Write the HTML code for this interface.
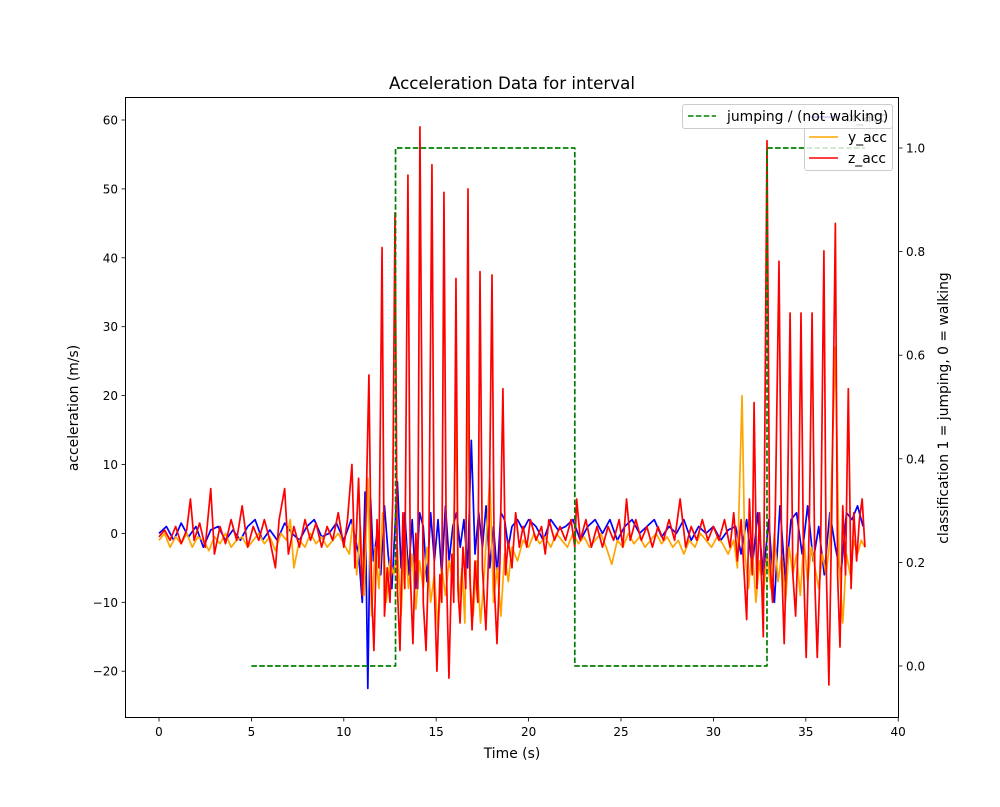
<!DOCTYPE html>
<html><head><meta charset="utf-8"><style>
body{margin:0;background:#fff;}
svg{display:block;font-family:"DejaVu Sans","Liberation Sans",sans-serif;}
</style></head><body>
<svg id="chart" width="1000" height="807" viewBox="0 0 1000 807">
<rect width="1000" height="807" fill="#fff"/>
<g id="plot"></g>
</svg>
<script>
const xTicks=[0,5,10,15,20,25,30,35,40];
const yTicks=[-20,-10,0,10,20,30,40,50,60];
const rTicks=[0.0,0.2,0.4,0.6,0.8,1.0];
const classT=[5,12.8,12.8,22.5,22.5,32.9,32.9,38.2];
const classV=[0,0,1,1,0,0,1,1];
const xAcc=[[0,0],[0.4,1],[0.8,-1],[1.2,1.5],[1.6,-0.5],[2.0,1],[2.4,-2],[2.8,0.5],[3.2,1],[3.6,-1],[4.0,0.5],[4.4,-1],[4.8,1],[5.2,2],[5.6,-1],[6.0,0.5],[6.4,-1],[6.8,1.5],[7.2,0],[7.6,-1],[8.0,1],[8.4,2],[8.8,-0.5],[9.2,0],[9.6,1.5],[10.0,-1],[10.4,2],[10.8,-3],[11.0,-10],[11.15,6],[11.3,-22.5],[11.45,5],[11.6,-4],[11.8,0],[12.0,-6],[12.2,4],[12.4,-3],[12.6,-8],[12.9,7.5],[13.1,-5],[13.3,3],[13.5,-6],[13.7,2],[13.9,-8],[14.1,3],[14.3,1],[14.5,-7],[14.7,3],[14.9,-4],[15.1,2],[15.3,-6],[15.5,4],[15.7,-4],[15.9,1],[16.1,3],[16.3,-2],[16.5,2],[16.7,-5],[16.9,13.5],[17.1,-3],[17.3,3],[17.5,-2],[17.7,4],[17.9,-5],[18.1,1],[18.3,-6],[18.5,3],[18.7,2],[18.9,-2],[19.1,1],[19.4,2],[19.7,0.5],[20.0,2],[20.4,1],[20.8,-1],[21.2,2],[21.6,0.5],[22.0,1],[22.4,2],[22.8,-1],[23.2,1],[23.6,2],[24.0,0],[24.4,2],[24.8,-1],[25.2,1],[25.6,2],[26.0,0],[26.4,1],[26.8,2],[27.2,-0.5],[27.6,1],[28.0,0],[28.4,2],[28.8,-1],[29.2,1],[29.6,0],[30.0,1],[30.4,-1],[30.8,0.5],[31.2,1],[31.5,-3],[31.8,2],[32.1,-5],[32.4,3],[32.7,-6],[33.0,2],[33.3,-10],[33.6,4],[33.9,-7],[34.2,2],[34.5,3],[34.8,-3],[35.1,4],[35.4,-4],[35.7,1],[36.0,-6],[36.3,3],[36.6,-2],[36.9,-6],[37.2,3],[37.5,2],[37.8,4],[38.1,1]];
const yAcc=[[0,-1],[0.3,0],[0.6,-2],[0.9,-0.5],[1.2,-1.5],[1.5,0],[1.8,-2],[2.1,-0.5],[2.4,-1],[2.7,-2.5],[3.0,-0.5],[3.3,-1.5],[3.6,0],[3.9,-2],[4.2,-1],[4.5,-0.5],[4.8,-2],[5.1,-1],[5.4,0],[5.7,-1.5],[6.0,-0.5],[6.3,-2.5],[6.6,0],[6.9,-1],[7.1,2],[7.3,-5],[7.6,-1],[7.9,-2],[8.2,0],[8.5,-1.5],[8.8,-0.5],[9.1,-2],[9.4,-1],[9.7,0],[10.0,-1.5],[10.3,-3],[10.5,2],[10.7,-6],[10.9,1],[11.1,-9],[11.3,8],[11.5,-12],[11.7,-2],[11.9,-8],[12.1,3],[12.3,-10],[12.5,-4],[12.7,-6],[12.9,-2],[13.1,-12],[13.3,0],[13.5,-8],[13.7,-3],[13.9,-11],[14.1,-4],[14.3,-8],[14.5,-2],[14.7,-10],[14.9,-6],[15.1,-14],[15.3,-5],[15.5,-9],[15.7,-4],[15.9,-7],[16.07,19],[16.2,-10],[16.4,-5],[16.55,-13],[16.72,24.5],[16.85,-8],[17.0,-12],[17.2,-4],[17.4,-13],[17.6,-6],[17.9,8],[18.1,-10],[18.3,-5],[18.5,-12],[18.7,-3],[18.9,-7],[19.1,-2],[19.4,-4],[19.7,-1],[20.0,-2],[20.3,0],[20.6,-1.5],[20.9,-0.5],[21.2,-2],[21.5,0],[21.8,-1],[22.1,-2],[22.4,0],[22.7,-1.5],[23.0,-0.5],[23.3,-2],[23.6,-1],[23.9,0],[24.2,-2],[24.5,-4.5],[24.8,-1],[25.1,-2],[25.4,0],[25.7,-1.5],[26.0,-0.5],[26.3,-2],[26.6,-1],[26.9,0],[27.2,-1.5],[27.5,-0.5],[27.8,-2],[28.1,-1],[28.4,-3],[28.7,-1],[29.0,-2],[29.3,0],[29.6,-1],[29.9,-2],[30.2,-0.5],[30.5,-1.5],[30.8,-3],[31.1,-1],[31.3,-5],[31.55,20],[31.7,-3],[31.9,-8],[32.1,-2],[32.3,-10],[32.5,-4],[32.7,-9],[32.9,-3],[33.1,-8],[33.3,0],[33.5,-7],[33.7,-3],[33.9,-10],[34.1,-2],[34.3,-6],[34.5,-3],[34.7,-9],[34.9,-1],[35.1,-7],[35.3,-2],[35.5,-5],[35.7,-8],[35.9,-3],[36.1,-6],[36.3,-1],[36.6,27],[36.8,-4],[37.0,-13],[37.2,-3],[37.4,-6],[37.6,-1],[37.8,-3],[38.0,-1],[38.2,-2]];
const zAcc=[[0,-0.5],[0.3,0.5],[0.6,-1],[0.9,1],[1.2,-1.5],[1.5,0.5],[1.7,5],[1.9,-1],[2.2,1.5],[2.5,-2],[2.8,6.5],[3.0,-3],[3.3,1],[3.6,-1.5],[3.9,2],[4.2,-1],[4.5,4],[4.8,-2],[5.1,1],[5.4,-1],[5.7,2],[6.0,-1],[6.3,-5],[6.5,2],[6.8,6.5],[7.0,-3],[7.3,1],[7.6,-2],[7.9,2],[8.2,-1],[8.5,1.5],[8.8,-2],[9.1,1],[9.4,-1],[9.7,3],[10.0,-2],[10.2,2],[10.44,10],[10.6,-5],[10.8,8],[11.0,-9],[11.2,3],[11.36,23],[11.5,-8],[11.63,-17],[11.8,2],[11.9,-5],[12.07,41.5],[12.2,-12],[12.35,-5],[12.5,-10],[12.65,5],[12.77,46.5],[12.9,-8],[13.04,-17],[13.2,3],[13.3,-8],[13.47,52],[13.6,-6],[13.74,-16],[13.9,0],[14.0,-8],[14.12,59],[14.3,-10],[14.45,-17],[14.6,-3],[14.77,53.5],[14.9,-8],[15.04,-20],[15.2,-6],[15.3,-10],[15.42,49.5],[15.55,-5],[15.69,-21],[15.85,-3],[15.95,-10],[16.07,37],[16.18,-8],[16.29,-13],[16.45,-2],[16.6,-8],[16.72,50],[16.82,-6],[16.94,-14],[17.1,-4],[17.25,-10],[17.37,38],[17.5,-5],[17.69,-14],[17.85,-2],[18.02,37.5],[18.15,-8],[18.29,-16],[18.45,-4],[18.61,21],[18.75,-6],[18.9,-1],[19.1,-5],[19.3,3],[19.5,-2],[19.7,1],[19.9,-2],[20.1,2],[20.4,-1],[20.7,1],[20.9,-3],[21.1,2],[21.4,-1],[21.7,1],[22.0,-1],[22.3,2],[22.5,-2],[22.6,5],[22.8,-1],[23.1,2],[23.4,-2],[23.7,1],[24.0,-2],[24.3,1],[24.6,-1],[24.9,2],[25.1,-2],[25.3,5],[25.5,-1],[25.8,2],[26.1,-1],[26.4,1],[26.7,-2],[27.0,1],[27.3,-1],[27.6,2],[27.9,-1],[28.2,5],[28.5,-2],[28.8,1],[29.1,-1],[29.4,2],[29.7,-1],[30.0,1],[30.3,-1],[30.6,2],[30.9,-2],[31.1,3],[31.3,-4],[31.5,2],[31.8,-12.5],[31.95,5],[32.1,-6],[32.2,19],[32.35,-8],[32.5,3],[32.7,-15],[32.9,57],[33.05,-4],[33.2,-10],[33.35,3],[33.55,39.5],[33.7,-5],[33.83,-16],[34.0,2],[34.15,32],[34.3,-6],[34.45,-12],[34.6,0],[34.74,32],[34.88,-5],[35.02,-18],[35.2,3],[35.34,32],[35.5,-8],[35.62,-18],[35.8,-3],[35.98,41],[36.1,-4],[36.25,-22],[36.4,2],[36.6,45],[36.72,-6],[36.85,-16.5],[37.0,4],[37.15,-6],[37.3,21],[37.45,-8],[37.6,3],[37.75,-4],[37.9,2],[38.05,5],[38.2,-2]];

const NS="http://www.w3.org/2000/svg";
const L=125,R=899,T=97,B=718;
const sx=t=>159+t*18.48;
const sy=v=>120+(60-v)*6.89;
const sr=v=>666-v*518;
const g=document.getElementById('plot');
function mk(tag,attrs,parent){const e=document.createElementNS(NS,tag);for(const k in attrs)e.setAttribute(k,attrs[k]);(parent||g).appendChild(e);return e;}

const defs=mk('defs',{});
const cp=mk('clipPath',{id:'clip'},defs);
mk('rect',{x:L,y:T,width:R-L,height:B-T},cp);
const data=mk('g',{'clip-path':'url(#clip)'});



function line(pts,color,name,dash){
  const p=mk('path',{d:'M'+pts.map(q=>q[0].toFixed(2)+','+q[1].toFixed(2)).join('L'),fill:'none',stroke:color,'stroke-width':1.7,'stroke-linejoin':'round'},data);
  if(dash)p.setAttribute('stroke-dasharray',dash);
  
  
}
line(xAcc.map(d=>[sx(d[0]),sy(d[1])]),'#0000ff','x-acc-line');
line(yAcc.map(d=>[sx(d[0]),sy(d[1])]),'#ffa500','y-acc-line');
line(zAcc.map(d=>[sx(d[0]),sy(d[1])]),'#ff0000','z-acc-line');
line(classT.map((t,i)=>[sx(t),sr(classV[i])]),'#008000','classification-line','5.5,2.4');

const fr=mk('rect',{x:L+0.5,y:T+0.5,width:R-L-1,height:B-T-1,fill:'none',stroke:'#000','stroke-width':1});



function txt(x,y,s,anchor,size,extra){const e=mk('text',Object.assign({x:x,y:y,'text-anchor':anchor,'font-size':size,fill:'#000'},extra||{}));e.textContent=s;return e;}

xTicks.forEach(t=>{
  mk('line',{x1:sx(t),x2:sx(t),y1:B,y2:B+3.5,stroke:'#000','stroke-width':0.8});
  const e=txt(sx(t),B+18,String(t),'middle',12);
  
  
});
yTicks.forEach(v=>{
  mk('line',{x1:L-3.5,x2:L,y1:sy(v),y2:sy(v),stroke:'#000','stroke-width':0.8});
  const e=txt(L-7,sy(v)+4.5,String(v).replace('-','\u2212'),'end',12);
  
  
});
rTicks.forEach(v=>{
  mk('line',{x1:R,x2:R+3.5,y1:sr(v),y2:sr(v),stroke:'#000','stroke-width':0.8});
  const e=txt(R+7,sr(v)+4.5,v.toFixed(1),'start',12);
  
  
});
let e;
e=txt(512,89,'Acceleration Data for interval','middle',16.7);


e=txt(512,758,'Time (s)','middle',13.9);


e=txt(0,0,'acceleration (m/s)','middle',13.9,{transform:'translate(78,408) rotate(-90)'});


e=txt(0,0,'classification 1 = jumping, 0 = walking','middle',13.9,{transform:'translate(948,408) rotate(-90)'});



const lg=mk('g',{});


mk('rect',{x:804.5,y:104.5,width:88,height:66,rx:2.5,fill:'#fff','fill-opacity':0.8,stroke:'#ccc'},lg);
[['x_acc','#0000ff',117],['y_acc','#ffa500',137],['z_acc','#ff0000',158]].forEach(a=>{
  mk('line',{x1:809,x2:838,y1:a[2],y2:a[2],stroke:a[1],'stroke-width':1.5},lg);
  const t=txt(848,a[2]+5,a[0],'start',13.9);
  lg.appendChild(t);
  
  
});
const lg2=mk('g',{});


mk('rect',{x:682.5,y:104.5,width:210,height:24,rx:2.5,fill:'#fff','fill-opacity':0.8,stroke:'#ccc'},lg2);
mk('line',{x1:688,x2:716,y1:116,y2:116,stroke:'#008000','stroke-width':1.5,'stroke-dasharray':'5.5,2.4'},lg2);
const t2=txt(727,121,'jumping / (not walking)','start',13.9);
lg2.appendChild(t2);


</script>
</body></html>
